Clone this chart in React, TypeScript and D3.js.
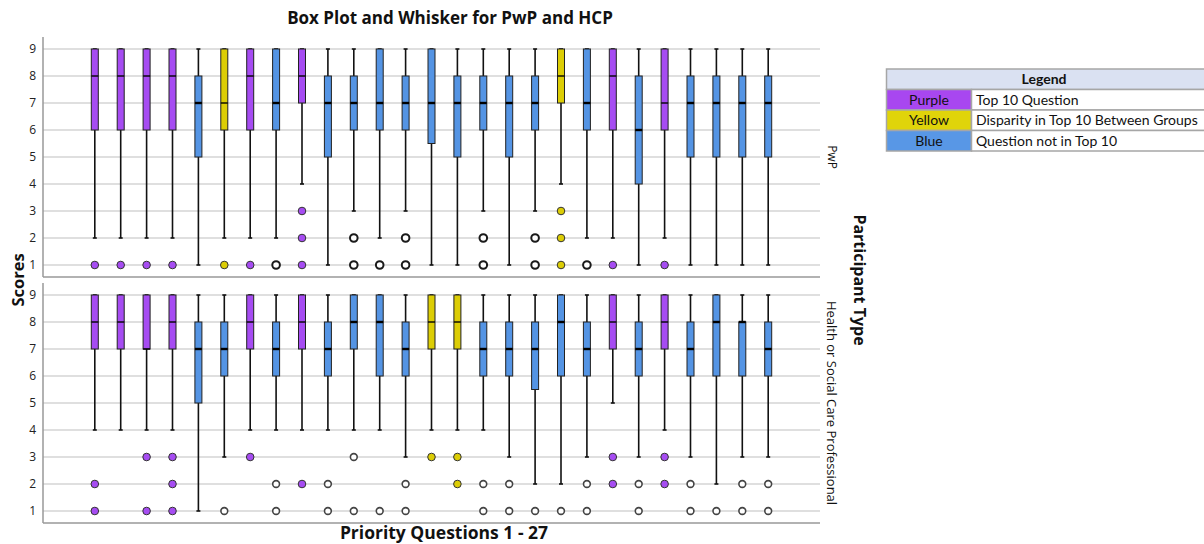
import React from "react";
import * as d3 from "d3";

// ---------- DATA ----------
const questions: string[] = Array.from({ length: 27 }, (_, i) => `Q${i + 1}`);
const panelNames: string[] = ["PwP", "Health or Social Care Professional"];
const yTicks: number[] = [1, 2, 3, 4, 5, 6, 7, 8, 9];

// P = Top 10 Question (purple), Y = Disparity (yellow), B = not in top 10 (blue)
const pwpGroup: string[] = ["P","P","P","P","B","Y","P","B","P","B","B","B","B","B","B","B","B","B","Y","B","P","B","P","B","B","B","B"];
const pwpQ1: number[] = [6,6,6,6,5,6,6,6,7,5,6,6,6,5.5,5,6,5,6,7,6,6,4,6,5,5,5,5];
const pwpMedian: number[] = [8,8,8,8,7,7,8,7,8,7,7,7,7,7,7,7,7,7,8,7,8,6,7,7,7,7,7];
const pwpQ3: number[] = [9,9,9,9,8,9,9,9,9,8,8,9,8,9,8,8,8,8,9,9,9,8,9,8,8,8,8];
const pwpWhiskerLow: number[] = [2,2,2,2,1,2,2,2,4,1,3,2,3,1,1,3,1,3,4,2,2,1,2,1,1,1,1];
const pwpWhiskerHigh: number[] = [9,9,9,9,9,9,9,9,9,9,9,9,9,9,9,9,9,9,9,9,9,9,9,9,9,9,9];
const pwpOutliers: number[][] = [[1],[1],[1],[1],[],[1],[1],[1],[3,2,1],[],[2,1],[1],[2,1],[],[],[2,1],[],[2,1],[3,2,1],[1],[1],[],[1],[],[],[],[]];

const hcpGroup: string[] = ["P","P","P","P","B","B","P","B","P","B","B","B","B","Y","Y","B","B","B","B","B","P","B","P","B","B","B","B"];
const hcpQ1: number[] = [7,7,7,7,5,6,7,6,7,6,7,6,6,7,7,6,6,5.5,6,6,7,6,7,6,6,6,6];
const hcpMedian: number[] = [8,8,7,8,7,7,8,7,8,7,8,8,7,8,8,7,7,7,8,7,8,7,8,7,8,8,7];
const hcpQ3: number[] = [9,9,9,9,8,8,9,8,9,8,9,9,8,9,9,8,8,8,9,8,9,8,9,8,9,8,8];
const hcpWhiskerLow: number[] = [4,4,4,4,1,3,4,4,4,4,4,4,3,4,4,4,3,2,2,3,5,3,4,3,2,3,3];
const hcpWhiskerHigh: number[] = [9,9,9,9,9,9,9,9,9,9,9,9,9,9,9,9,9,9,9,9,9,9,9,9,9,9,9];
const hcpOutliers: number[][] = [[2,1],[],[3,1],[3,2,1],[],[1],[3],[2,1],[2],[2,1],[3,1],[1],[2,1],[3],[3,2],[2,1],[2,1],[1],[1],[2,1],[3,2],[2,1],[3,2],[2,1],[1],[2,1],[2,1]];

const legendKeys: string[] = ["Purple", "Yellow", "Blue"];
const legendLabels: string[] = ["Top 10 Question", "Disparity in Top 10 Between Groups", "Question not in Top 10"];

// ---------- STYLE ----------
const boxColor: Record<string, string> = { P: "#a64cf2", Y: "#dccd05", B: "#5494e4" };
const legendColor: Record<string, string> = { Purple: "#a847f0", Yellow: "#e0d40a", Blue: "#5897e6" };

const W = 1204, H = 544;
const plotLeft = 43, plotRight = 820;
const panelBoxes = [
  { top: 37, bottom: 277 },
  { top: 283, bottom: 523 },
];
const font = "'Open Sans', 'DejaVu Sans', sans-serif";

export default function App() {
  const x = d3.scalePoint<string>().domain(questions).range([plotLeft, plotRight]).padding(2);
  const panels = [
    { g: pwpGroup, q1: pwpQ1, med: pwpMedian, q3: pwpQ3, lo: pwpWhiskerLow, hi: pwpWhiskerHigh, out: pwpOutliers },
    { g: hcpGroup, q1: hcpQ1, med: hcpMedian, q3: hcpQ3, lo: hcpWhiskerLow, hi: hcpWhiskerHigh, out: hcpOutliers },
  ];
  const bw = 7;

  return (
    <svg width={W} height={H} style={{ position: "absolute", left: 0, top: 0, background: "#fff" }}>
      <text x={450} y={24} textAnchor="middle" fontFamily={font} fontWeight="bold" fontSize={17} fill="#111">
        Box Plot and Whisker for PwP and HCP
      </text>
      {panels.map((p, pi) => {
        const pb = panelBoxes[pi];
        const y = d3.scaleLinear().domain([1, 9]).range([pb.bottom - 12, pb.top + 12]);
        return (
          <g key={pi}>
            {yTicks.map((t) => (
              <g key={t}>
                <line x1={plotLeft} x2={plotRight} y1={y(t)} y2={y(t)} stroke="#d4d4d4" strokeWidth={1.5} />
                <text x={36} y={y(t)} dy="0.35em" textAnchor="end" fontFamily={font} fontSize={12} fill="#222">
                  {t}
                </text>
              </g>
            ))}
            <line x1={plotLeft} x2={plotLeft} y1={pb.top} y2={pb.bottom} stroke="#999" strokeWidth={1.5} />
            <line x1={plotLeft} x2={plotRight} y1={pb.bottom} y2={pb.bottom} stroke="#999" strokeWidth={1.5} />
            {questions.map((q, i) => {
              const cx = x(q) as number;
              const grp = p.g[i];
              const thickMed = grp === "B";
              return (
                <g key={q}>
                  <line x1={cx} x2={cx} y1={y(p.hi[i])} y2={y(p.q3[i])} stroke="#111" strokeWidth={1.6} />
                  <line x1={cx} x2={cx} y1={y(p.q1[i])} y2={y(p.lo[i])} stroke="#111" strokeWidth={1.6} />
                  <line x1={cx - 2} x2={cx + 2} y1={y(p.hi[i])} y2={y(p.hi[i])} stroke="#111" strokeWidth={1.6} />
                  <line x1={cx - 2} x2={cx + 2} y1={y(p.lo[i])} y2={y(p.lo[i])} stroke="#111" strokeWidth={1.6} />
                  <rect
                    x={cx - bw / 2}
                    y={y(p.q3[i])}
                    width={bw}
                    height={y(p.q1[i]) - y(p.q3[i])}
                    fill={boxColor[grp]}
                    stroke="#222"
                    strokeWidth={1}
                  />
                  <line
                    x1={cx - bw / 2}
                    x2={cx + bw / 2}
                    y1={y(p.med[i])}
                    y2={y(p.med[i])}
                    stroke="#000"
                    strokeWidth={thickMed ? 2.4 : 1.4}
                  />
                  {p.out[i].map((o) => {
                    const hollow = grp === "B";
                    return hollow ? (
                      <circle
                        key={o}
                        cx={cx}
                        cy={y(o)}
                        r={pi === 0 ? 3.8 : 3.4}
                        fill="#fff"
                        stroke={pi === 0 ? "#1a1a1a" : "#444"}
                        strokeWidth={pi === 0 ? 2 : 1.6}
                      />
                    ) : (
                      <circle key={o} cx={cx} cy={y(o)} r={3.8} fill={boxColor[grp]} stroke="#333" strokeWidth={1} />
                    );
                  })}
                </g>
              );
            })}
            <text
              transform={`translate(832, ${(pb.top + pb.bottom) / 2}) rotate(90)`}
              textAnchor="middle"
              dominantBaseline="central"
              fontFamily={font}
              fontSize={pi === 0 ? 12 : 13}
              fill="#111"
            >
              {panelNames[pi]}
            </text>
          </g>
        );
      })}
      <text
        transform="translate(17, 280) rotate(-90)"
        textAnchor="middle"
        dominantBaseline="central"
        fontFamily={font}
        fontWeight="bold"
        fontSize={16.5}
        fill="#111"
      >
        Scores
      </text>
      <text x={444} y={539} textAnchor="middle" fontFamily={font} fontWeight="bold" fontSize={17.5} fill="#111">
        Priority Questions 1 - 27
      </text>
      <text
        transform="translate(860, 280) rotate(90)"
        textAnchor="middle"
        dominantBaseline="central"
        fontFamily={font}
        fontWeight="bold"
        fontSize={16}
        fill="#111"
      >
        Participant Type
      </text>
      {/* Legend table */}
      <g fontFamily="Lato, 'Open Sans', sans-serif" fontSize={14}>
        <rect x={886.5} y={69} width={320} height={20.5} fill="#dae1f2" stroke="#a6a6a6" strokeWidth={1.5} />
        <text x={1044} y={79.5} dy="0.35em" textAnchor="middle" fontWeight="bold" fill="#111">
          Legend
        </text>
        {legendKeys.map((k, i) => {
          const ry = 89.5 + i * 20.5;
          return (
            <g key={k}>
              <rect x={886.5} y={ry} width={85} height={20.5} fill={legendColor[k]} stroke="#a6a6a6" strokeWidth={1.5} />
              <rect x={971.5} y={ry} width={235} height={20.5} fill="#fff" stroke="#a6a6a6" strokeWidth={1.5} />
              <text x={929} y={ry + 10.5} dy="0.35em" textAnchor="middle" fill="#111">
                {k}
              </text>
              <text x={976} y={ry + 10.5} dy="0.35em" fill="#111">
                {legendLabels[i]}
              </text>
            </g>
          );
        })}
      </g>
    </svg>
  );
}
